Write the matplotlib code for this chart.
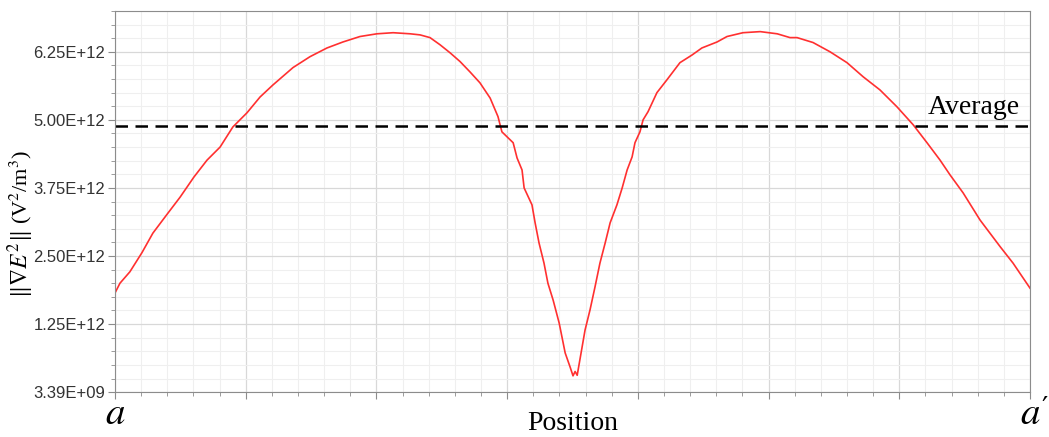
import numpy as np
import matplotlib.pyplot as plt
from matplotlib.ticker import MultipleLocator, FixedLocator, NullFormatter

plt.rcParams['mathtext.fontset'] = 'stix'

# position along the cut line a -> a' (grid units)
position = [0, 0.19, 0.57, 1.03, 1.45, 2.03, 2.49, 3.02, 3.52, 4.02, 4.51, 5.05,
            5.55, 6.04, 6.81, 7.46, 8.11, 8.72, 9.37, 10.02, 10.64, 11.29, 11.67,
            12.05, 12.43, 12.82, 13.20, 13.58, 13.96, 14.35, 14.65, 14.80, 15.23,
            15.38, 15.57, 15.65, 15.95, 16.07, 16.22, 16.41, 16.56, 16.76, 16.99,
            17.22, 17.41, 17.52, 17.60, 17.68, 17.98, 18.17, 18.36, 18.55, 18.75,
            18.94, 19.20, 19.40, 19.59, 19.78, 19.89, 20.08, 20.20, 20.39, 20.73,
            21.12, 21.61, 22.07, 22.45, 23.03, 23.41, 24.02, 24.68, 25.33, 25.82,
            26.09, 26.70, 27.35, 28.00, 28.62, 29.26, 29.91, 30.53, 31.06, 31.56,
            31.94, 32.44, 33.09, 33.86, 34.35, 35.00]
# ||grad E^2|| in 1e12 V^2/m^3
grad_e2 = [1.82, 2.00, 2.21, 2.56, 2.92, 3.29, 3.58, 3.95, 4.26, 4.50, 4.87, 5.13,
           5.42, 5.64, 5.96, 6.16, 6.32, 6.43, 6.53, 6.58, 6.60, 6.58, 6.56,
           6.51, 6.38, 6.23, 6.07, 5.88, 5.68, 5.40, 5.06, 4.78, 4.58,
           4.30, 4.08, 3.75, 3.44, 3.11, 2.74, 2.37, 2.00, 1.69, 1.27,
           0.72, 0.46, 0.30, 0.38, 0.31, 1.14, 1.51, 1.93, 2.37, 2.74,
           3.11, 3.44, 3.75, 4.08, 4.32, 4.58, 4.78, 5.00, 5.15, 5.50,
           5.74, 6.05, 6.19, 6.32, 6.43, 6.53, 6.60, 6.62, 6.58, 6.51,
           6.51, 6.42, 6.25, 6.05, 5.79, 5.55, 5.24, 4.91, 4.58, 4.26,
           3.99, 3.66, 3.16, 2.67, 2.37, 1.91]
average = 4.89
ytick_vals = [0.00339, 1.25, 2.50, 3.75, 5.00, 6.25]

scale = 1e12
x = np.array(position)
y = np.array(grad_e2) * scale

fig = plt.figure(figsize=(10.49, 4.37), dpi=100)
ax = fig.add_axes([0.1096, 0.103, 0.8723, 0.872])

ax.plot(x, y, color='#ff3030', lw=1.2)
ax.axhline(average * scale, color='black', ls=(0, (5, 3)), lw=1.8)
ax.text(34.6, average * scale + 0.1 * scale, 'Average', ha='right', va='bottom',
        family='Liberation Serif', fontsize=20)

ax.set_xlim(0, 35)
ax.set_ylim(ytick_vals[0] * scale, 7.0 * scale)

ax.xaxis.set_major_locator(MultipleLocator(5))
ax.xaxis.set_minor_locator(MultipleLocator(1))
ax.xaxis.set_major_formatter(NullFormatter())
ax.yaxis.set_major_locator(FixedLocator([v * scale for v in ytick_vals]))
ax.yaxis.set_minor_locator(MultipleLocator(0.25 * scale))
ax.set_yticklabels([f'{v * scale:.2E}' for v in ytick_vals],
                   family='Liberation Sans', fontsize=12)

ax.grid(which='major', color='#d8d8d8', lw=0.9)
ax.grid(which='minor', color='#efefef', lw=0.8)
ax.set_axisbelow(True)
for s in ax.spines.values():
    s.set_color('#8c8c8c')
ax.tick_params(which='both', colors='#8c8c8c', labelcolor='#333333', direction='out')
ax.tick_params(which='major', length=5, pad=2)
ax.tick_params(which='minor', length=3)

# end points of the cut line
xt = ax.get_xaxis_transform()
ax.text(0, -0.015, 'a', transform=xt, ha='center', va='top',
        family='STIXGeneral', style='italic', fontsize=28)
ax.text(35, -0.015, 'a', transform=xt, ha='center', va='top',
        family='STIXGeneral', style='italic', fontsize=28)
ax.annotate('\u2032', xy=(35, 0), xycoords=xt, xytext=(8, -3),
            textcoords='offset points', ha='left', va='top',
            family=['DejaVu Serif'], fontsize=20)
ax.text(17.5, -0.05, 'Position', transform=xt, ha='center',
        va='top', family='Liberation Serif', fontsize=20)

# y label in two parts: the norm symbol is set larger than the unit
fig.text(0.020, 0.395, r'$\|\nabla E^2\|$', rotation=90, ha='center', va='center',
         fontsize=17)
fig.text(0.020, 0.572, r'(V$^2$/m$^3$)', rotation=90, ha='center', va='center',
         family='Liberation Serif', fontsize=16)

fig.savefig('out.png', dpi=100)
